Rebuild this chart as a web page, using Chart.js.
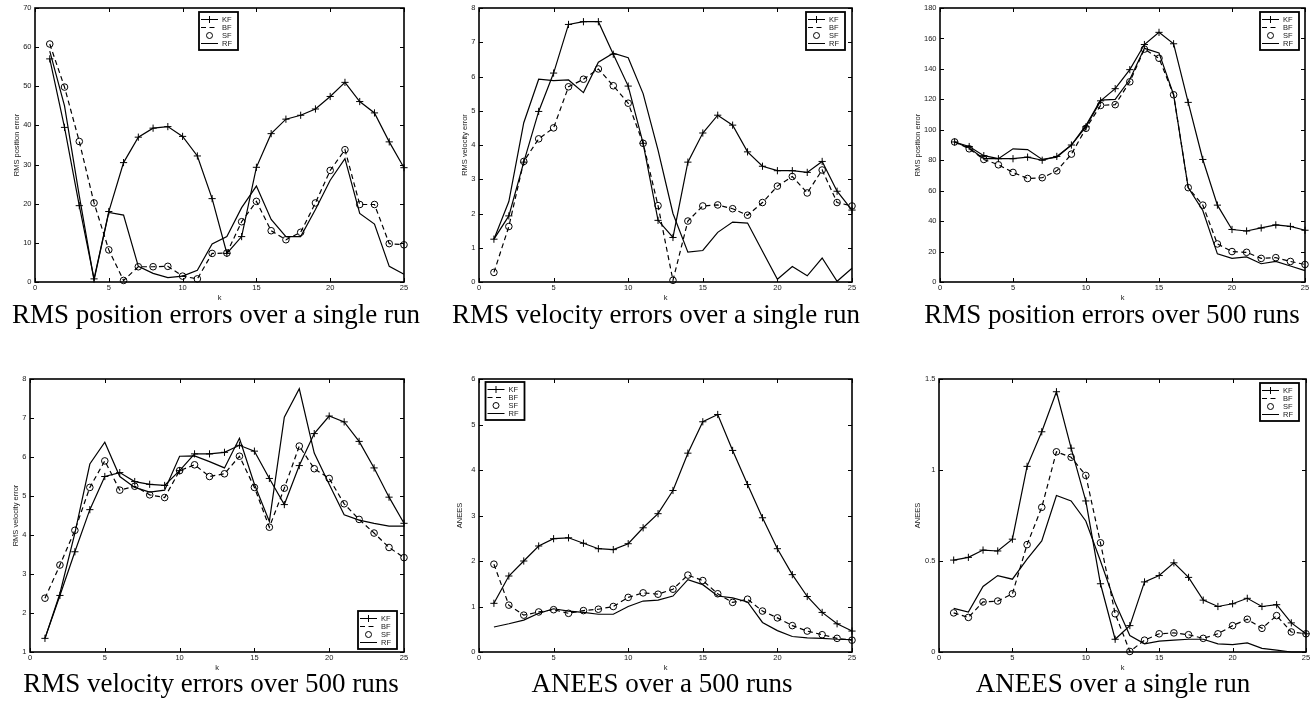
<!DOCTYPE html>
<html>
<head>
<meta charset="utf-8">
<script src="https://cdn.jsdelivr.net/npm/chart.js@4"></script>
<style>
  html, body { margin: 0; padding: 0; background: #fff; }
  #wrap { position: relative; width: 1315px; height: 705px; background: #fff; overflow: hidden; }
  canvas { position: absolute; }
</style>
</head>
<body>
<div id="wrap">
  <canvas id="c1" width="440" height="335" style="left:0px;top:0px"></canvas>
  <canvas id="c2" width="440" height="335" style="left:440px;top:0px"></canvas>
  <canvas id="c3" width="435" height="335" style="left:880px;top:0px"></canvas>
  <canvas id="c4" width="440" height="365" style="left:0px;top:340px"></canvas>
  <canvas id="c5" width="440" height="365" style="left:440px;top:340px"></canvas>
  <canvas id="c6" width="435" height="365" style="left:880px;top:340px"></canvas>
</div>
<script>
// ---------------- data ----------------
const k = [1,2,3,4,5,6,7,8,9,10,11,12,13,14,15,16,17,18,19,20,21,22,23,24,25];
const seriesNames = ['KF', 'BF', 'SF', 'RF'];
const xTicks = [0, 5, 10, 15, 20, 25];

// Panel 1: RMS position errors over a single run
const p1YTicks = [0, 10, 20, 30, 40, 50, 60, 70];
const p1KF = [57, 39.5, 19.5, 0.8, 18, 30.5, 37, 39.3, 39.7, 37.2, 32.2, 21.3, 7.3, 11.6, 29.3, 37.9, 41.6, 42.6, 44.2, 47.4, 51, 46.1, 43.2, 35.8, 29.2];
const p1BF = [60.8, 49.8, 35.9, 20.2, 8.2, 0.4, 3.9, 3.9, 4.0, 1.5, 0.8, 7.3, 7.4, 15.4, 20.6, 13.1, 10.8, 12.7, 20.2, 28.5, 33.8, 19.8, 19.8, 9.8, 9.5];
const p1SF = [60.8, 49.8, 35.9, 20.2, 8.2, 0.4, 3.9, 3.9, 4.0, 1.5, 0.8, 7.3, 7.4, 15.4, 20.6, 13.1, 10.8, 12.7, 20.2, 28.5, 33.8, 19.8, 19.8, 9.8, 9.5];
const p1RF = [59, 45, 22, 0.5, 17.8, 17.1, 4, 2.2, 1.1, 1.5, 3, 9.7, 11.6, 19, 24.5, 16, 11.6, 11.6, 18.5, 26, 31.5, 17.5, 14.8, 4, 2];

// Panel 2: RMS velocity errors over a single run
const p2YTicks = [0, 1, 2, 3, 4, 5, 6, 7, 8];
const p2KF = [1.25, 1.93, 3.5, 4.98, 6.1, 7.52, 7.6, 7.6, 6.65, 5.72, 4.05, 1.8, 1.3, 3.5, 4.35, 4.87, 4.58, 3.8, 3.38, 3.25, 3.25, 3.2, 3.52, 2.65, 2.1];
const p2BF = [0.28, 1.62, 3.52, 4.18, 4.5, 5.7, 5.92, 6.22, 5.73, 5.22, 4.05, 2.23, 0.05, 1.78, 2.22, 2.25, 2.14, 1.95, 2.32, 2.8, 3.08, 2.6, 3.27, 2.32, 2.22];
const p2SF = [0.28, 1.62, 3.52, 4.18, 4.5, 5.7, 5.92, 6.22, 5.73, 5.22, 4.05, 2.23, 0.05, 1.78, 2.22, 2.25, 2.14, 1.95, 2.32, 2.8, 3.08, 2.6, 3.27, 2.32, 2.22];
const p2RF = [1.25, 2.35, 4.65, 5.92, 5.88, 5.9, 5.53, 6.42, 6.68, 6.55, 5.5, 3.85, 2.0, 0.87, 0.92, 1.45, 1.75, 1.72, 0.9, 0.08, 0.45, 0.18, 0.7, 0.02, 0.4];

// Panel 3: RMS position errors over 500 runs
const p3YTicks = [0, 20, 40, 60, 80, 100, 120, 140, 160, 180];
const p3KF = [92, 89, 83, 81, 81, 82, 80, 82.5, 90, 102, 119, 127, 139.5, 156, 164, 156.5, 118, 80.5, 50.5, 34.5, 33.5, 35.5, 37.5, 36.5, 34];
const p3BF = [92, 87.5, 80.5, 77, 72, 68, 68.5, 73, 84, 101, 116, 116.5, 131.5, 153, 147, 123, 62, 50.5, 25, 20, 19.5, 15.5, 16, 13.5, 11.5];
const p3SF = [92, 87.5, 80.5, 77, 72, 68, 68.5, 73, 84, 101, 116, 116.5, 131.5, 153, 147, 123, 62, 50.5, 25, 20, 19.5, 15.5, 16, 13.5, 11.5];
const p3RF = [92, 88, 81, 81, 87.5, 87, 80.5, 82, 90, 103, 119.5, 120, 133, 153.5, 150.5, 123, 62, 47, 18.5, 15.5, 16.5, 12, 13.5, 10.5, 7.5];

// Panel 4: RMS velocity errors over 500 runs
const p4YTicks = [1, 2, 3, 4, 5, 6, 7, 8];
const p4KF = [1.35, 2.45, 3.57, 4.65, 5.5, 5.6, 5.37, 5.3, 5.27, 5.65, 6.08, 6.08, 6.12, 6.3, 6.15, 5.45, 4.78, 5.78, 6.6, 7.05, 6.9, 6.4, 5.72, 4.97, 4.3];
const p4BF = [2.38, 3.23, 4.12, 5.22, 5.9, 5.15, 5.25, 5.03, 4.96, 5.65, 5.8, 5.5, 5.57, 6.02, 5.22, 4.2, 5.2, 6.28, 5.7, 5.45, 4.8, 4.4, 4.05, 3.68, 3.42];
const p4SF = [2.38, 3.23, 4.12, 5.22, 5.9, 5.15, 5.25, 5.03, 4.96, 5.65, 5.8, 5.5, 5.57, 6.02, 5.22, 4.2, 5.2, 6.28, 5.7, 5.45, 4.8, 4.4, 4.05, 3.68, 3.42];
const p4RF = [1.35, 2.5, 4.05, 5.82, 6.38, 5.5, 5.22, 5.1, 5.15, 6.02, 6.03, 5.88, 5.72, 6.48, 5.3, 4.35, 7.02, 7.75, 6.1, 5.3, 4.52, 4.38, 4.3, 4.23, 4.23];

// Panel 5: ANEES over a 500 runs
const p5YTicks = [0, 1, 2, 3, 4, 5, 6];
const p5KF = [1.07, 1.67, 2.0, 2.33, 2.49, 2.51, 2.39, 2.27, 2.25, 2.38, 2.73, 3.04, 3.55, 4.37, 5.06, 5.22, 4.43, 3.68, 2.95, 2.27, 1.7, 1.22, 0.87, 0.62, 0.46];
const p5BF = [1.93, 1.03, 0.81, 0.88, 0.93, 0.85, 0.91, 0.94, 1.0, 1.2, 1.3, 1.27, 1.38, 1.69, 1.57, 1.28, 1.09, 1.16, 0.9, 0.75, 0.58, 0.46, 0.38, 0.3, 0.26];
const p5SF = [1.93, 1.03, 0.81, 0.88, 0.93, 0.85, 0.91, 0.94, 1.0, 1.2, 1.3, 1.27, 1.38, 1.69, 1.57, 1.28, 1.09, 1.16, 0.9, 0.75, 0.58, 0.46, 0.38, 0.3, 0.26];
const p5RF = [0.55, 0.62, 0.7, 0.85, 0.95, 0.9, 0.87, 0.83, 0.83, 1.0, 1.12, 1.14, 1.23, 1.59, 1.48, 1.23, 1.19, 1.1, 0.65, 0.47, 0.34, 0.31, 0.3, 0.28, 0.27];

// Panel 6: ANEES over a single run
const p6YTicks = [0, 0.5, 1, 1.5];
const p6KF = [0.505, 0.52, 0.56, 0.555, 0.62, 1.02, 1.21, 1.43, 1.12, 0.83, 0.375, 0.07, 0.145, 0.385, 0.42, 0.49, 0.41, 0.285, 0.25, 0.265, 0.295, 0.25, 0.26, 0.16, 0.1];
const p6BF = [0.215, 0.19, 0.275, 0.28, 0.32, 0.59, 0.795, 1.1, 1.07, 0.97, 0.6, 0.21, 0.003, 0.065, 0.1, 0.105, 0.095, 0.075, 0.1, 0.145, 0.18, 0.13, 0.2, 0.11, 0.1];
const p6SF = [0.215, 0.19, 0.275, 0.28, 0.32, 0.59, 0.795, 1.1, 1.07, 0.97, 0.6, 0.21, 0.003, 0.065, 0.1, 0.105, 0.095, 0.075, 0.1, 0.145, 0.18, 0.13, 0.2, 0.11, 0.1];
const p6RF = [0.24, 0.22, 0.36, 0.42, 0.4, 0.51, 0.61, 0.86, 0.83, 0.72, 0.5, 0.27, 0.09, 0.045, 0.06, 0.065, 0.07, 0.07, 0.045, 0.04, 0.05, 0.02, 0.01, 0, 0];

// ---------------- layout / style ----------------
const SMALL_FONT = { family: '"Liberation Sans", Arial, Helvetica, sans-serif', size: 7.5 };
const TEXT_COLOR = '#1a1a1a';
const X_AXIS_H = 20;

const panels = [
  { id: 'c1', cx: 0,   cy: 0,   area: { l: 35,  r: 404,  t: 8,   b: 282 }, yTicks: p1YTicks, yTitle: 'RMS position error', yTitleX: 16.5,
    data: [p1KF, p1BF, p1SF, p1RF], legend: { x: 199, y: 12 }, caption: 'RMS position errors over a single run', capX: 216, capY: 323 },
  { id: 'c2', cx: 440, cy: 0,   area: { l: 479, r: 852,  t: 8,   b: 282 }, yTicks: p2YTicks, yTitle: 'RMS velocity error', yTitleX: 464.7,
    data: [p2KF, p2BF, p2SF, p2RF], legend: { x: 806, y: 12 }, caption: 'RMS velocity errors over a single run', capX: 656, capY: 323 },
  { id: 'c3', cx: 880, cy: 0,   area: { l: 940, r: 1305, t: 8,   b: 282 }, yTicks: p3YTicks, yTitle: 'RMS position error', yTitleX: 918,
    data: [p3KF, p3BF, p3SF, p3RF], legend: { x: 1260, y: 12 }, caption: 'RMS position errors over 500 runs', capX: 1112, capY: 323 },
  { id: 'c4', cx: 0,   cy: 340, area: { l: 30,  r: 404,  t: 379, b: 652 }, yTicks: p4YTicks, yTitle: 'RMS velocity error', yTitleX: 16.3,
    data: [p4KF, p4BF, p4SF, p4RF], legend: { x: 358, y: 611 }, caption: 'RMS velocity errors over 500 runs', capX: 211, capY: 692 },
  { id: 'c5', cx: 440, cy: 340, area: { l: 479, r: 852,  t: 379, b: 652 }, yTicks: p5YTicks, yTitle: 'ANEES', yTitleX: 460,
    data: [p5KF, p5BF, p5SF, p5RF], legend: { x: 485.5, y: 382 }, caption: 'ANEES over a 500 runs', capX: 662, capY: 692 },
  { id: 'c6', cx: 880, cy: 340, area: { l: 939, r: 1306, t: 379, b: 652 }, yTicks: p6YTicks, yTitle: 'ANEES', yTitleX: 918,
    data: [p6KF, p6BF, p6SF, p6RF], legend: { x: 1260, y: 383 }, caption: 'ANEES over a single run', capX: 1113, capY: 692 }
];

const seriesStyle = [
  { borderDash: [], pointStyle: 'cross', pointRadius: 3.6, showLine: true },
  { borderDash: [5, 3.5], pointStyle: false, pointRadius: 0, showLine: true },
  { borderDash: [], pointStyle: 'circle', pointRadius: 3.3, showLine: false },
  { borderDash: [], pointStyle: false, pointRadius: 0, showLine: true }
];

// inward ticks on all four sides + box (MATLAB style)
const boxPlugin = {
  id: 'matlabBox',
  afterDraw(chart) {
    const { ctx, chartArea: a, scales: { x, y } } = chart;
    ctx.save();
    ctx.strokeStyle = '#000';
    ctx.lineWidth = 1;
    const T = 4;
    ctx.beginPath();
    x.ticks.forEach(t => {
      const px = Math.round(x.getPixelForValue(t.value)) + 0.5;
      ctx.moveTo(px, a.bottom); ctx.lineTo(px, a.bottom - T);
      ctx.moveTo(px, a.top); ctx.lineTo(px, a.top + T);
    });
    y.ticks.forEach(t => {
      const py = Math.round(y.getPixelForValue(t.value)) + 0.5;
      ctx.moveTo(a.left, py); ctx.lineTo(a.left + T, py);
      ctx.moveTo(a.right, py); ctx.lineTo(a.right - T, py);
    });
    ctx.stroke();
    ctx.lineWidth = 1.6;
    ctx.strokeRect(a.left, a.top, a.right - a.left, a.bottom - a.top);
    ctx.restore();
  }
};

// MATLAB-like legend box
const legendPlugin = {
  id: 'matlabLegend',
  afterDraw(chart, args, opts) {
    const { ctx } = chart;
    const lx = opts.x, ly = opts.y, w = 39, h = 38;
    ctx.save();
    ctx.fillStyle = '#fff';
    ctx.fillRect(lx, ly, w, h);
    ctx.strokeStyle = '#000';
    ctx.lineWidth = 1.8;
    ctx.strokeRect(lx, ly, w, h);
    ctx.font = SMALL_FONT.size + 'px ' + SMALL_FONT.family;
    ctx.fillStyle = TEXT_COLOR;
    ctx.textBaseline = 'middle';
    ctx.textAlign = 'left';
    const rows = [6.5, 14.8, 23.1, 31.4];
    chart.data.datasets.forEach((ds, i) => {
      const yy = Math.round(ly + rows[i]) + 0.5;
      const st = seriesStyle[i];
      ctx.strokeStyle = '#000';
      ctx.lineWidth = 1;
      if (st.showLine) {
        ctx.setLineDash(st.borderDash);
        ctx.beginPath();
        ctx.moveTo(lx + 2, yy); ctx.lineTo(lx + 19, yy);
        ctx.stroke();
        ctx.setLineDash([]);
      }
      const mx = lx + 10.5;
      if (st.pointStyle === 'cross') {
        ctx.beginPath();
        ctx.moveTo(mx - 3.5, yy); ctx.lineTo(mx + 3.5, yy);
        ctx.moveTo(mx, yy - 3.5); ctx.lineTo(mx, yy + 3.5);
        ctx.stroke();
      } else if (st.pointStyle === 'circle') {
        ctx.beginPath();
        ctx.arc(mx, yy, 3, 0, Math.PI * 2);
        ctx.stroke();
      }
      ctx.fillText(ds.label, lx + 23, yy);
    });
    ctx.restore();
  }
};

// caption below each panel
const captionPlugin = {
  id: 'caption',
  afterDraw(chart, args, opts) {
    const { ctx } = chart;
    ctx.save();
    ctx.font = '27px "Liberation Serif", "Times New Roman", Times, serif';
    ctx.fillStyle = '#000';
    ctx.textAlign = 'center';
    ctx.textBaseline = 'alphabetic';
    ctx.fillText(opts.text, opts.x, opts.y);
    ctx.restore();
  }
};

panels.forEach(p => {
  const canvas = document.getElementById(p.id);
  const W = canvas.width, H = canvas.height;
  const a = p.area;
  const padTop = a.t - p.cy;
  const padRight = p.cx + W - a.r;
  const padBottom = H - (a.b - p.cy) - X_AXIS_H;
  const yAxisW = a.l - p.cx;
  const lineH = SMALL_FONT.size * 1.2;

  const datasets = seriesNames.map((name, i) => {
    const st = seriesStyle[i];
    return {
      label: name,
      data: k.map((kv, j) => ({ x: kv, y: p.data[i][j] })),
      borderColor: '#000',
      backgroundColor: 'transparent',
      borderWidth: 1.2,
      borderDash: st.borderDash,
      showLine: st.showLine,
      pointStyle: st.pointStyle,
      pointRadius: st.pointRadius,
      pointHoverRadius: st.pointRadius,
      pointBorderColor: '#000',
      pointBackgroundColor: 'transparent',
      pointBorderWidth: 1,
      tension: 0,
      clip: false
    };
  });

  new Chart(canvas, {
    type: 'line',
    data: { datasets },
    options: {
      responsive: false,
      animation: false,
      devicePixelRatio: 1,
      layout: { padding: { left: 0, top: padTop, right: padRight, bottom: padBottom } },
      events: [],
      plugins: {
        legend: { display: false },
        tooltip: { enabled: false },
        title: { display: false },
        matlabLegend: { x: p.legend.x - p.cx, y: p.legend.y - p.cy },
        caption: { text: p.caption, x: p.capX - p.cx, y: p.capY - p.cy }
      },
      scales: {
        x: {
          type: 'linear',
          min: 0, max: 25,
          afterBuildTicks: s => { s.ticks = xTicks.map(v => ({ value: v })); },
          afterFit: s => { s.height = X_AXIS_H; },
          grid: { display: false, drawTicks: false, tickLength: 0 },
          border: { display: false },
          ticks: { font: SMALL_FONT, color: TEXT_COLOR, padding: 1.5, maxRotation: 0, autoSkip: false,
                   callback: v => String(v) },
          title: { display: true, text: 'k', font: SMALL_FONT, color: TEXT_COLOR, padding: { top: 0, bottom: 0 } }
        },
        y: {
          type: 'linear',
          min: p.yTicks[0], max: p.yTicks[p.yTicks.length - 1],
          afterBuildTicks: s => { s.ticks = p.yTicks.map(v => ({ value: v })); },
          afterFit: s => { s.width = yAxisW; },
          grid: { display: false, drawTicks: false, tickLength: 0 },
          border: { display: false },
          ticks: { font: SMALL_FONT, color: TEXT_COLOR, padding: 3.5, autoSkip: false,
                   callback: v => String(v) },
          title: { display: true, text: p.yTitle, font: SMALL_FONT, color: TEXT_COLOR,
                   padding: { top: (p.yTitleX - p.cx) - lineH / 2, bottom: 0 } }
        }
      }
    },
    plugins: [boxPlugin, legendPlugin, captionPlugin]
  });
});
</script>
</body>
</html>
